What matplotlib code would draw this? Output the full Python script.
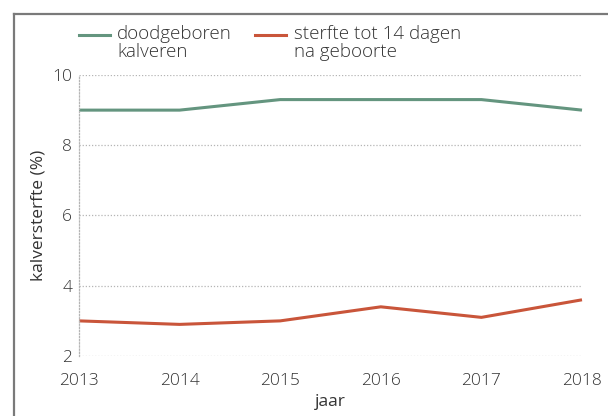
import matplotlib.pyplot as plt
from matplotlib.lines import Line2D

plt.rcParams['font.family'] = ['Open Sans', 'DejaVu Sans']
plt.rcParams['font.weight'] = 'light'

jaren = [2013, 2014, 2015, 2016, 2017, 2018]
doodgeboren = [9.0, 9.0, 9.3, 9.3, 9.3, 9.0]
sterfte_14d = [3.0, 2.9, 3.0, 3.4, 3.1, 3.6]
yticks = [2, 4, 6, 8, 10]

groen = '#64957f'
rood = '#c9553a'
tekst = '#333333'
grijs = '#b5b5b5'
fs = 12.5

fig = plt.figure(figsize=(6.08, 4.16), dpi=100)
ax = fig.add_axes([79 / 608, 1 - 356 / 416, (582 - 79) / 608, (356 - 75) / 416])

ax.plot(jaren, doodgeboren, color=groen, lw=2.2, clip_on=False, solid_capstyle='butt')
ax.plot(jaren, sterfte_14d, color=rood, lw=2.2, clip_on=False, solid_capstyle='butt')

ax.set_xlim(2013, 2018)
ax.set_ylim(2, 10)
ax.set_xticks(jaren)
ax.set_xticks(jaren[1:-1], minor=True)
ax.set_yticks(yticks)
ax.set_xticklabels([str(j) for j in jaren])

ax.grid(axis='y', linestyle=(0, (1, 1.5)), color=grijs, lw=0.9)
for s in ['top', 'right', 'bottom']:
    ax.spines[s].set_visible(False)
ax.spines['left'].set_linestyle((0, (1, 1.5)))
ax.spines['left'].set_color(grijs)
ax.spines['left'].set_linewidth(0.9)

ax.tick_params(axis='x', which='major', length=0, pad=12, labelsize=fs, labelcolor=tekst)
ax.tick_params(axis='x', which='minor', direction='in', length=14, width=0.9, color=grijs)
ax.tick_params(axis='y', length=0, pad=5, labelsize=fs, labelcolor=tekst)

ax.set_xlabel('jaar', fontsize=fs, color=tekst, labelpad=4)
ax.set_ylabel('kalversterfte (%)', fontsize=fs, color=tekst, labelpad=4)

# kader links en boven
fig.add_artist(Line2D([14 / 608, 14 / 608], [0, 1 - 14 / 416], color='#7a7a7a', lw=1.6))
fig.add_artist(Line2D([14 / 608, 1], [1 - 14 / 416, 1 - 14 / 416], color='#7a7a7a', lw=1.6))

# legenda
fig.add_artist(Line2D([79 / 608, 110 / 608], [1 - 35 / 416] * 2, color=groen, lw=2.2))
fig.text(117 / 608, 1 - 25 / 416, 'doodgeboren\nkalveren', fontsize=13.5, color=tekst,
         va='top', ha='left', linespacing=0.98)
fig.add_artist(Line2D([255 / 608, 286 / 608], [1 - 35 / 416] * 2, color=rood, lw=2.2))
fig.text(294 / 608, 1 - 25 / 416, 'sterfte tot 14 dagen\nna geboorte', fontsize=13.5, color=tekst,
         va='top', ha='left', linespacing=0.98)

fig.savefig('out.png', dpi=100)
